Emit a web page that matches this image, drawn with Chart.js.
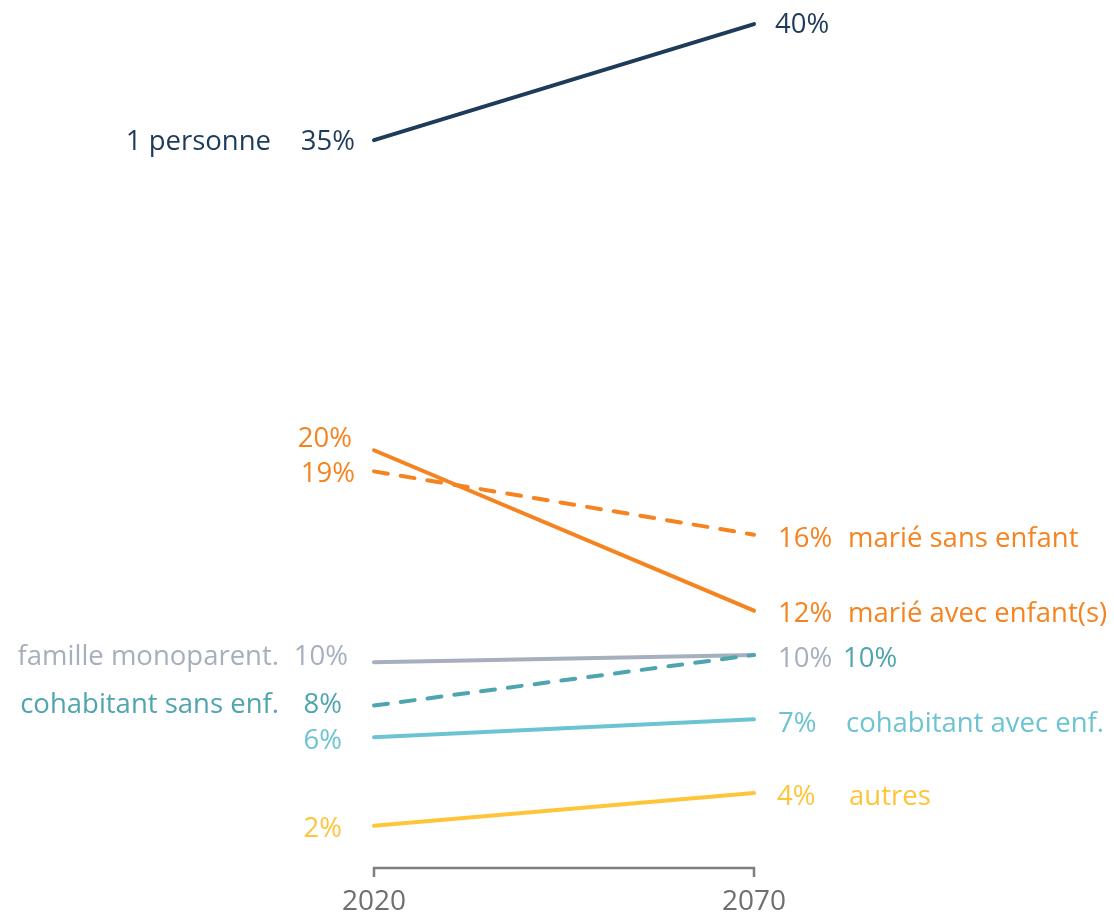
<!DOCTYPE html>
<html lang="fr">
<head>
<meta charset="utf-8">
<title>Ménages par type, 2020 – 2070</title>
<script src="https://cdn.jsdelivr.net/npm/chart.js@4/dist/chart.umd.min.js"></script>
<style>
  html, body { margin: 0; padding: 0; background: #fff; }
  .chart-wrap { position: relative; width: 1114px; height: 916px; }
</style>
</head>
<body>
<div class="chart-wrap"><canvas id="slopeChart"></canvas></div>

<script>
/* ── Data (% of households) ─────────────────────────────── */

const years = ['2020', '2070'];

const seriesNames = [
  '1 personne',
  'marié avec enfant(s)',
  'marié sans enfant',
  'cohabitant sans enf.',
  'famille monoparent.',
  'cohabitant avec enf.',
  'autres'
];

const onePerson       = [34.5, 40.0];
const marriedKids     = [19.8, 12.2];
const marriedNoKids   = [18.8, 15.8];
const cohabNoKids     = [7.7, 10.1];
const singleParent    = [9.75, 10.1];
const cohabKids       = [6.2, 7.05];
const otherHouseholds = [2.0, 3.55];

const seriesValues = [onePerson, marriedKids, marriedNoKids, cohabNoKids, singleParent, cohabKids, otherHouseholds];


/* ── Styles ─────────────────────────────────────────────── */

const FONT = '"Open Sans", "Lato", sans-serif';
const FONT_SIZE = 27.5;
const YEAR_FONT_SIZE = 28;
const TEXT_NUDGE = 2;   // Open Sans sits a touch high with 'middle' baseline

const COLORS = {
  navy:   '#1f3b5a',
  orange: '#f5831f',
  gray:   '#a6afbd',
  teal:   '#4ea5b0',
  sky:    '#6cc4d3',
  yellow: '#fec53b',
  axis:   '#7f7f7f',
  year:   '#6f6f6f'
};

const seriesColors = [COLORS.navy, COLORS.orange, COLORS.orange, COLORS.teal, COLORS.gray, COLORS.sky, COLORS.yellow];
const seriesDashed = [false, false, true, true, false, false, false];

// label placement, per series (same order as seriesNames)
// l: pct right edge offset from the 2020 point, vertical nudge, name right edge
// r: pct left edge offset from the 2070 point, vertical nudge, name left edge
const LABEL_LAYOUT = [
  { l: { dx: -19, dy: 0,   nameX: 271 },  r: { dx: 21, dy: -1, nameX: null } },
  { l: { dx: -22, dy: -13, nameX: null }, r: { dx: 24, dy: 2,  nameX: 848 } },
  { l: { dx: -19, dy: 1,   nameX: null }, r: { dx: 24, dy: 3,  nameX: 848 } },
  { l: { dx: -32, dy: -2,  nameX: 279 },  r: { dx: 89, dy: 2,  nameX: null } },
  { l: { dx: -26, dy: -7,  nameX: 279 },  r: { dx: 24, dy: 2,  nameX: null } },
  { l: { dx: -32, dy: 2,   nameX: null }, r: { dx: 24, dy: 3,  nameX: 846 } },
  { l: { dx: -32, dy: 1,   nameX: null }, r: { dx: 23, dy: 2,  nameX: 849 } }
];

// which side carries the series name
const nameSide = ['l', 'r', 'r', 'l', 'l', 'r', 'r'];


/* ── Plugins ────────────────────────────────────────────── */

const slopeLabels = {
  id: 'slopeLabels',
  afterDatasetsDraw(chart) {
    const ctx = chart.ctx;
    ctx.save();
    ctx.font = FONT_SIZE + 'px ' + FONT;
    ctx.textBaseline = 'middle';

    chart.data.datasets.forEach((ds, i) => {
      const meta = chart.getDatasetMeta(i);
      const p0 = meta.data[0];
      const p1 = meta.data[1];
      const lay = LABEL_LAYOUT[i];
      const yL = p0.y + lay.l.dy + TEXT_NUDGE;
      const yR = p1.y + lay.r.dy + TEXT_NUDGE;
      ctx.fillStyle = seriesColors[i];

      // 2020 side
      ctx.textAlign = 'right';
      ctx.fillText(Math.round(ds.data[0]) + '%', p0.x + lay.l.dx, yL);
      if (nameSide[i] === 'l') ctx.fillText(seriesNames[i], lay.l.nameX, yL);

      // 2070 side
      ctx.textAlign = 'left';
      ctx.fillText(Math.round(ds.data[1]) + '%', p1.x + lay.r.dx, yR);
      if (nameSide[i] === 'r') ctx.fillText(seriesNames[i], lay.r.nameX, yR);
    });

    ctx.restore();
  }
};

const yearAxis = {
  id: 'yearAxis',
  afterDraw(chart) {
    const ctx = chart.ctx;
    const x = chart.scales.x;
    const y = chart.scales.y.getPixelForValue(0);
    const xa = x.getPixelForValue(0);
    const xb = x.getPixelForValue(1);

    ctx.save();
    ctx.strokeStyle = COLORS.axis;
    ctx.lineWidth = 2.5;
    ctx.beginPath();
    ctx.moveTo(xa, y + 9);
    ctx.lineTo(xa, y);
    ctx.lineTo(xb, y);
    ctx.lineTo(xb, y + 9);
    ctx.stroke();

    ctx.fillStyle = COLORS.year;
    ctx.font = YEAR_FONT_SIZE + 'px ' + FONT;
    ctx.textAlign = 'center';
    ctx.textBaseline = 'middle';
    years.forEach((yr, i) => ctx.fillText(yr, x.getPixelForValue(i), y + 34));
    ctx.restore();
  }
};


/* ── Chart ──────────────────────────────────────────────── */

new Chart(document.getElementById('slopeChart'), {
  type: 'line',
  data: {
    labels: years,
    datasets: seriesValues.map((vals, i) => ({
      label: seriesNames[i],
      data: vals,
      borderColor: seriesColors[i],
      borderWidth: 4,
      borderDash: seriesDashed[i] ? [14, 13] : [],
      borderCapStyle: 'round',
      pointRadius: 0,
      tension: 0,
      clip: false
    }))
  },
  options: {
    responsive: true,
    maintainAspectRatio: false,
    animation: false,
    layout: { padding: { left: 374, right: 360, top: 3, bottom: 48 } },
    plugins: {
      legend: { display: false },
      tooltip: { enabled: false }
    },
    scales: {
      x: { type: 'category', offset: false, display: false },
      y: { min: 0, max: 41, display: false }
    }
  },
  plugins: [slopeLabels, yearAxis]
});
</script>
</body>
</html>
